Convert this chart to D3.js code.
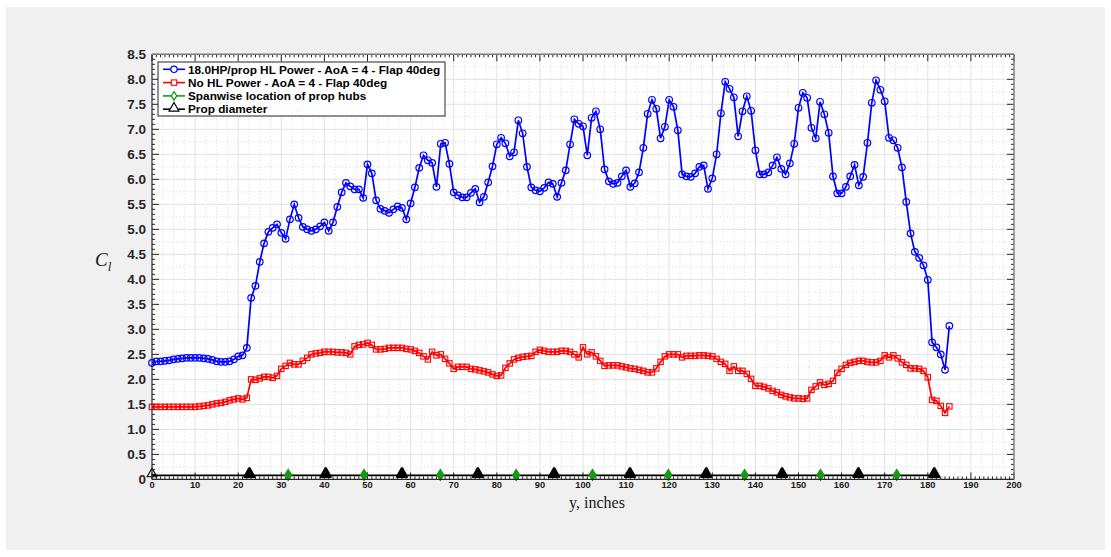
<!DOCTYPE html>
<html>
<head>
<meta charset="utf-8">
<script src="https://cdn.jsdelivr.net/npm/d3@7"></script>
<style>
  html, body { margin: 0; padding: 0; background: #ffffff; }
  svg { display: block; }
</style>
</head>
<body>
<svg id="chart" width="1111" height="557"></svg>
<script>
// Spanwise stations (inches), one per inch along the wing
const stations = d3.range(0, 186);

// Sectional lift coefficient with 18 HP per prop of high-lift power
const clPowered = [
  2.33, 2.36, 2.36, 2.37, 2.38, 2.40, 2.41, 2.42, 2.43, 2.43,
  2.43, 2.43, 2.42, 2.41, 2.39, 2.36, 2.35, 2.35, 2.36, 2.40,
  2.46, 2.48, 2.63, 3.63, 3.87, 4.35, 4.72, 4.95, 5.03, 5.10,
  4.93, 4.81, 5.20, 5.50, 5.23, 5.05, 5.00, 4.97, 5.00, 5.06,
  5.14, 4.97, 5.14, 5.45, 5.74, 5.93, 5.86, 5.80, 5.80, 5.63,
  6.30, 6.12, 5.58, 5.41, 5.37, 5.33, 5.40, 5.46, 5.43, 5.20,
  5.52, 5.84, 6.23, 6.48, 6.38, 6.33, 5.85, 6.71, 6.73, 6.31,
  5.74, 5.68, 5.64, 5.64, 5.73, 5.81, 5.54, 5.65, 5.94, 6.26,
  6.70, 6.83, 6.72, 6.46, 6.54, 7.18, 6.92, 6.25, 5.84, 5.78,
  5.76, 5.83, 5.94, 5.91, 5.65, 5.93, 6.18, 6.70, 7.20, 7.11,
  7.06, 6.48, 7.23, 7.36, 7.00, 6.20, 5.96, 5.91, 5.93, 6.06,
  6.18, 5.85, 5.92, 6.14, 6.63, 7.31, 7.59, 7.41, 6.82, 7.05,
  7.59, 7.45, 6.98, 6.10, 6.06, 6.05, 6.12, 6.25, 6.28, 5.81,
  6.02, 6.50, 7.32, 7.95, 7.81, 7.64, 6.86, 7.36, 7.66, 7.37,
  6.58, 6.10, 6.10, 6.14, 6.28, 6.44, 6.21, 6.10, 6.32, 6.71,
  7.43, 7.73, 7.63, 7.03, 6.82, 7.55, 7.30, 6.93, 6.06, 5.72,
  5.72, 5.85, 6.06, 6.29, 5.88, 6.05, 6.73, 7.53, 7.98, 7.79,
  7.56, 6.83, 6.78, 6.63, 6.24, 5.55, 4.92, 4.55, 4.43, 4.28,
  3.99, 2.74, 2.64, 2.50, 2.19, 3.07
];

// Sectional lift coefficient with the props unpowered
const clUnpowered = [
  1.45, 1.45, 1.45, 1.45, 1.45, 1.45, 1.45, 1.45, 1.45, 1.45,
  1.45, 1.46, 1.47, 1.48, 1.50, 1.52, 1.53, 1.55, 1.58, 1.60,
  1.62, 1.60, 1.63, 2.00, 1.99, 2.02, 2.05, 2.05, 2.03, 2.07,
  2.21, 2.27, 2.33, 2.30, 2.30, 2.37, 2.43, 2.50, 2.52, 2.53,
  2.55, 2.55, 2.55, 2.54, 2.54, 2.53, 2.50, 2.66, 2.69, 2.70,
  2.73, 2.69, 2.60, 2.60, 2.61, 2.63, 2.63, 2.63, 2.63, 2.61,
  2.60, 2.57, 2.53, 2.46, 2.40, 2.55, 2.48, 2.50, 2.41, 2.32,
  2.21, 2.25, 2.25, 2.25, 2.21, 2.20, 2.18, 2.16, 2.14, 2.10,
  2.07, 2.08, 2.23, 2.32, 2.40, 2.43, 2.45, 2.46, 2.47, 2.55,
  2.59, 2.57, 2.55, 2.55, 2.55, 2.57, 2.57, 2.55, 2.50, 2.44,
  2.64, 2.50, 2.54, 2.46, 2.37, 2.27, 2.28, 2.28, 2.28, 2.26,
  2.24, 2.22, 2.21, 2.19, 2.17, 2.14, 2.14, 2.22, 2.35, 2.46,
  2.50, 2.50, 2.50, 2.44, 2.47, 2.47, 2.47, 2.48, 2.48, 2.47,
  2.46, 2.41, 2.35, 2.31, 2.17, 2.26, 2.17, 2.17, 2.11, 2.01,
  1.87, 1.87, 1.85, 1.82, 1.77, 1.74, 1.69, 1.66, 1.64, 1.62,
  1.62, 1.61, 1.62, 1.79, 1.86, 1.94, 1.89, 1.91, 1.97, 2.13,
  2.21, 2.29, 2.33, 2.35, 2.37, 2.37, 2.35, 2.34, 2.34, 2.37,
  2.48, 2.44, 2.48, 2.42, 2.34, 2.29, 2.22, 2.22, 2.21, 2.17,
  2.04, 1.59, 1.57, 1.47, 1.33, 1.46
];

// Spanwise prop hub locations (inches)
const hubStations = [31.6, 49.2, 66.9, 84.5, 102.2, 119.8, 137.5, 155.1, 172.8];
// Prop disk edges (inches)
const propEdges = [0, 22.6, 40.3, 58.0, 75.6, 93.3, 110.9, 128.6, 146.2, 163.9, 181.5];
// Height at which the hub and disk markers are drawn
const markerLevel = 0.08;

const xTicks = d3.range(0, 201, 10);
const yTicks = d3.range(0, 8.51, 0.5);

const legendLabels = [
  "18.0HP/prop HL Power - AoA = 4 - Flap 40deg",
  "No HL Power - AoA = 4 - Flap 40deg",
  "Spanwise location of prop hubs",
  "Prop diameter"
];

const BLUE = "#0000ff", RED = "#ff0000", GREEN = "#159a15", BLACK = "#000000";

const svg = d3.select("#chart");

// figure panel
svg.append("rect").attr("x", 6).attr("y", 7).attr("width", 1099).attr("height", 543)
  .attr("fill", "#f0f0f0");

const plotL = 152, plotR = 1014, plotT = 54.3, plotB = 479.4;
const x = d3.scaleLinear().domain([0, 200]).range([plotL, plotR]);
const y = d3.scaleLinear().domain([0, 8.5]).range([plotB, plotT]);

svg.append("rect").attr("x", plotL).attr("y", plotT)
  .attr("width", plotR - plotL).attr("height", plotB - plotT).attr("fill", "#ffffff");

const isHalf = v => Math.abs(v * 2 - Math.round(v * 2)) < 1e-6;

const grid = svg.append("g");
// minor grid
grid.selectAll("line.mx").data(d3.range(2.5, 200, 2.5).filter(v => v % 10 !== 0))
  .join("line").attr("x1", d => x(d)).attr("x2", d => x(d)).attr("y1", plotT).attr("y2", plotB)
  .attr("stroke", "#d4d4d4").attr("stroke-width", 0.8).attr("stroke-dasharray", "1.2,2.2");
grid.selectAll("line.my").data(d3.range(0.25, 8.5, 0.5))
  .join("line").attr("x1", plotL).attr("x2", plotR).attr("y1", d => y(d)).attr("y2", d => y(d))
  .attr("stroke", "#d4d4d4").attr("stroke-width", 0.8).attr("stroke-dasharray", "1.2,2.2");
// major grid
grid.selectAll("line.Mx").data(xTicks.slice(1, -1))
  .join("line").attr("x1", d => x(d)).attr("x2", d => x(d)).attr("y1", plotT).attr("y2", plotB)
  .attr("stroke", "#e2e2e2").attr("stroke-width", 1);
grid.selectAll("line.My").data(yTicks.slice(1, -1))
  .join("line").attr("x1", plotL).attr("x2", plotR).attr("y1", d => y(d)).attr("y2", d => y(d))
  .attr("stroke", "#e2e2e2").attr("stroke-width", 1);

// ticks on all four sides, pointing inward
const tickG = svg.append("g").attr("stroke", "#262626").attr("stroke-width", 1);
const xMinor = d3.range(0, 201, 1).filter(v => v % 10 !== 0);
const yMinor = d3.range(0, 85, 1).map(v => v / 10).filter(v => !isHalf(v));
xTicks.forEach(t => {
  tickG.append("line").attr("x1", x(t)).attr("x2", x(t)).attr("y1", plotB).attr("y2", plotB - 7);
  tickG.append("line").attr("x1", x(t)).attr("x2", x(t)).attr("y1", plotT).attr("y2", plotT + 7);
});
xMinor.forEach(t => {
  tickG.append("line").attr("x1", x(t)).attr("x2", x(t)).attr("y1", plotB).attr("y2", plotB - 3);
  tickG.append("line").attr("x1", x(t)).attr("x2", x(t)).attr("y1", plotT).attr("y2", plotT + 3);
});
yTicks.forEach(t => {
  tickG.append("line").attr("x1", plotL).attr("x2", plotL + 7).attr("y1", y(t)).attr("y2", y(t));
  tickG.append("line").attr("x1", plotR).attr("x2", plotR - 7).attr("y1", y(t)).attr("y2", y(t));
});
yMinor.forEach(t => {
  tickG.append("line").attr("x1", plotL).attr("x2", plotL + 3).attr("y1", y(t)).attr("y2", y(t));
  tickG.append("line").attr("x1", plotR).attr("x2", plotR - 3).attr("y1", y(t)).attr("y2", y(t));
});

// tick labels
svg.append("g").selectAll("text").data(yTicks).join("text")
  .attr("x", plotL - 6).attr("y", d => y(d)).attr("dy", "0.36em")
  .attr("text-anchor", "end")
  .attr("font-family", "'Liberation Sans', Arial, sans-serif").attr("font-weight", "bold")
  .attr("font-size", 13.5).attr("fill", "#262626")
  .text(d => d === 0 ? "0" : d.toFixed(1));
svg.append("g").selectAll("text").data(xTicks).join("text")
  .attr("x", d => x(d)).attr("y", plotB + 8.5)
  .attr("text-anchor", "middle")
  .attr("font-family", "'Liberation Sans', Arial, sans-serif").attr("font-weight", "bold")
  .attr("font-size", 9.3).attr("fill", "#1a1a1a")
  .text(d => d);

// series
const line = d3.line().x(d => x(d[0])).y(d => y(d[1]));
const blueData = stations.map((s, i) => [s, clPowered[i]]);
const redData = stations.map((s, i) => [s, clUnpowered[i]]);

const plot = svg.append("g");
plot.append("path").datum(blueData).attr("d", line)
  .attr("fill", "none").attr("stroke", BLUE).attr("stroke-width", 1.7);
plot.append("g").selectAll("circle").data(blueData).join("circle")
  .attr("cx", d => x(d[0])).attr("cy", d => y(d[1])).attr("r", 3.3)
  .attr("fill", "none").attr("stroke", BLUE).attr("stroke-width", 1.2);

plot.append("path").datum(redData).attr("d", line)
  .attr("fill", "none").attr("stroke", RED).attr("stroke-width", 1.7);
plot.append("g").selectAll("rect").data(redData).join("rect")
  .attr("x", d => x(d[0]) - 2.7).attr("y", d => y(d[1]) - 2.7)
  .attr("width", 5.4).attr("height", 5.4)
  .attr("fill", "none").attr("stroke", RED).attr("stroke-width", 1.1);

const hubData = hubStations.map(h => [h, markerLevel]);
const edgeData = propEdges.map(e => [e, markerLevel]);

// hub line sits underneath the prop-diameter line
plot.append("path").datum(hubData).attr("d", line)
  .attr("fill", "none").attr("stroke", GREEN).attr("stroke-width", 1.0);
plot.append("path").datum(edgeData).attr("d", line)
  .attr("fill", "none").attr("stroke", BLACK).attr("stroke-width", 1.8);

const tri = d3.symbol().type(d3.symbolTriangle).size(42);
plot.append("g").selectAll("path").data(edgeData).join("path")
  .attr("d", tri)
  .attr("transform", d => `translate(${x(d[0])},${y(d[1]) - 1.5})`)
  .attr("fill", (d, i) => i === 0 ? "none" : BLACK)
  .attr("stroke", BLACK).attr("stroke-width", (d, i) => i === 0 ? 1.2 : 2.4)
  .attr("stroke-linejoin", "round");

const diamondPath = "M0,-5L3.2,0L0,5L-3.2,0Z";
plot.append("g").selectAll("path").data(hubData).join("path")
  .attr("d", diamondPath)
  .attr("transform", d => `translate(${x(d[0])},${y(d[1]) - 0.5})`)
  .attr("fill", GREEN).attr("stroke", GREEN).attr("stroke-width", 1.8);

// axes box
svg.append("line").attr("x1", plotL).attr("x2", plotR).attr("y1", plotB).attr("y2", plotB)
  .attr("stroke", "#262626").attr("stroke-width", 1.2);
svg.append("line").attr("x1", plotL).attr("x2", plotL).attr("y1", plotT).attr("y2", plotB)
  .attr("stroke", "#262626").attr("stroke-width", 1.2);
svg.append("line").attr("x1", plotL).attr("x2", plotR).attr("y1", plotT).attr("y2", plotT)
  .attr("stroke", "#7a7a7a").attr("stroke-width", 1.4);
svg.append("line").attr("x1", plotR).attr("x2", plotR).attr("y1", plotT).attr("y2", plotB)
  .attr("stroke", "#7a7a7a").attr("stroke-width", 1.4);

// axis titles
svg.append("text").attr("x", 597).attr("y", 508).attr("text-anchor", "middle")
  .attr("font-family", "'Liberation Serif', 'Times New Roman', serif").attr("font-size", 16)
  .attr("fill", "#1a1a1a").text("y, inches");
const yl = svg.append("text").attr("x", 95).attr("y", 266)
  .attr("font-family", "'Liberation Serif', 'Times New Roman', serif").attr("font-style", "italic")
  .attr("font-size", 19).attr("fill", "#1a1a1a");
yl.append("tspan").text("C");
yl.append("tspan").attr("font-size", 13).attr("dy", 5).text("l");

// legend
const lg = svg.append("g");
lg.append("rect").attr("x", 158).attr("y", 62).attr("width", 287).attr("height", 54)
  .attr("fill", "#ffffff").attr("stroke", "#262626").attr("stroke-width", 1);
const rowY = [69.3, 82.6, 95.9, 109.2];
const colors = [BLUE, RED, GREEN, BLACK];
legendLabels.forEach((lab, i) => {
  const ry = rowY[i];
  lg.append("line").attr("x1", 163).attr("x2", 185).attr("y1", ry).attr("y2", ry)
    .attr("stroke", colors[i]).attr("stroke-width", 1.6);
  const mk = lg.append("g").attr("transform", `translate(174,${ry})`);
  if (i === 0) mk.append("circle").attr("r", 3.2).attr("fill", "#fff").attr("stroke", BLUE).attr("stroke-width", 1.2);
  if (i === 1) mk.append("rect").attr("x", -2.7).attr("y", -2.7).attr("width", 5.4).attr("height", 5.4)
    .attr("fill", "#fff").attr("stroke", RED).attr("stroke-width", 1.1);
  if (i === 2) mk.append("path").attr("d", "M0,-4.2L2.8,0L0,4.2L-2.8,0Z").attr("fill", "#fff").attr("stroke", GREEN).attr("stroke-width", 1.3);
  if (i === 3) mk.append("path").attr("d", tri).attr("transform", "translate(0,-1)").attr("fill", "#fff").attr("stroke", BLACK).attr("stroke-width", 1.2);
  lg.append("text").attr("x", 188).attr("y", ry).attr("dy", "0.36em")
    .attr("font-family", "'Liberation Sans', Arial, sans-serif").attr("font-weight", "bold")
    .attr("font-size", 11.8).attr("fill", "#000").text(lab);
});
</script>
</body>
</html>
